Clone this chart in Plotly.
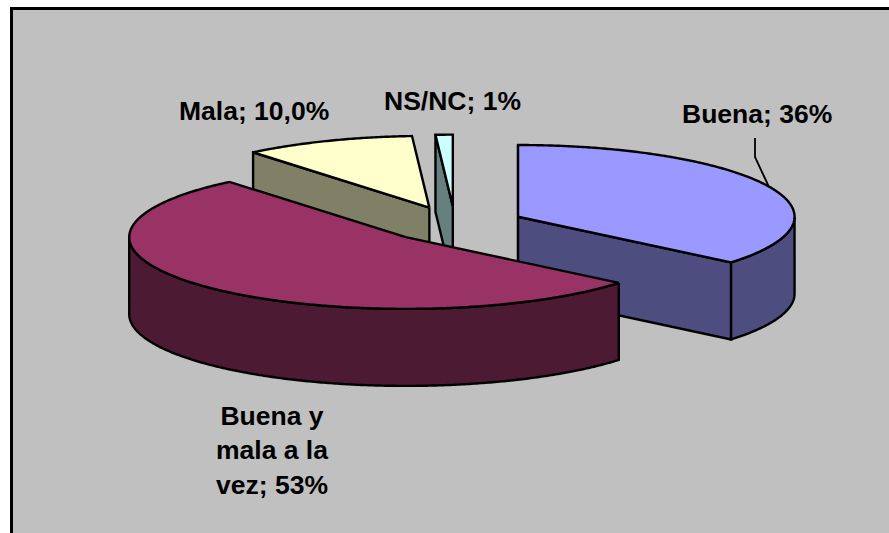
import math
import plotly.graph_objects as go

# Data
categories = ["Buena", "Buena y mala a la vez", "Mala", "NS/NC"]
shares = [36, 53, 10, 1]
top_colors = ["#9999FF", "#993366", "#FFFFCC", "#CCFFFF"]
wall_colors = ["#4D4D80", "#4D1A33", "#808066", "#668080"]
draw_order = [2, 3, 0, 1]  # back to front

# Pie projection (pixels on the axes below)
CX, CY = 455.0, 224.4
RX, RY = 276.5, 71.7
DEPTH = 77.0
EXPLODE = 0.252
W, H = 889, 533


def pt(c, deg, r=1.0, dy=0.0):
    a = math.radians(deg)
    return c[0] + r * RX * math.sin(a), c[1] - r * RY * math.cos(a) + dy


def arc(c, a0, a1, dy=0.0):
    n = max(2, int(abs(a1 - a0)) * 2)
    return [pt(c, a0 + (a1 - a0) * i / n, 1.0, dy) for i in range(n + 1)]


def poly(points, fill):
    xs = [p[0] for p in points] + [points[0][0]]
    ys = [p[1] for p in points] + [points[0][1]]
    return go.Scatter(x=xs, y=ys, mode="lines", fill="toself", fillcolor=fill,
                      line=dict(color="black", width=2.4, simplify=False),
                      hoverinfo="skip", showlegend=False)


total = sum(shares)
bounds = []
acc = 0
for v in shares:
    bounds.append((acc * 360 / total, (acc + v) * 360 / total))
    acc += v

fig = go.Figure()
for i in draw_order:
    a0, a1 = bounds[i]
    mid = (a0 + a1) / 2
    c = pt((CX, CY), mid, EXPLODE)
    # cut faces
    if math.sin(math.radians(a0)) < -1e-9 or a0 == 0:
        p = pt(c, a0)
        fig.add_trace(poly([c, p, (p[0], p[1] + DEPTH), (c[0], c[1] + DEPTH)], wall_colors[i]))
    if math.sin(math.radians(a1)) > 1e-9:
        p = pt(c, a1)
        fig.add_trace(poly([c, p, (p[0], p[1] + DEPTH), (c[0], c[1] + DEPTH)], wall_colors[i]))
    # rim
    lo, hi = max(a0, 90), min(a1, 270)
    if hi > lo:
        fig.add_trace(poly(arc(c, lo, hi) + arc(c, hi, lo, DEPTH), wall_colors[i]))
    # top
    fig.add_trace(poly([c] + arc(c, a0, a1), top_colors[i]))

FONT = dict(family="Liberation Sans, Arial", size=26.5, color="black")
labels = [
    ("Buena; 36%", 757, 114),
    ("Mala; 10,0%", 254, 111),
    ("NS/NC; 1%", 452, 101),
    ("Buena y<br>mala a la<br>vez; 53%", 272, 450),
]
annotations = [dict(x=x, y=y, xref="x", yref="y", text="<b>%s</b>" % t, showarrow=False,
                    font=FONT, xanchor="center", yanchor="middle", align="center")
               for t, x, y in labels]

fig.update_layout(
    width=W, height=H, margin=dict(l=0, r=0, t=0, b=0),
    paper_bgcolor="white", plot_bgcolor="white",
    xaxis=dict(range=[0, W], visible=False, fixedrange=True),
    yaxis=dict(range=[H, 0], visible=False, fixedrange=True),
    annotations=annotations,
    shapes=[
        dict(type="rect", layer="below", x0=11.5, y0=8.5, x1=W + 10, y1=H + 10,
             fillcolor="#C0C0C0", line=dict(color="black", width=3)),
        dict(type="path", layer="above", path="M 755 138 L 755 157 L 769 187",
             line=dict(color="black", width=1.8)),
    ],
)
fig.write_html("out.html", config={"displayModeBar": False},
               post_script="document.body.style.margin='0';document.body.style.overflow='hidden';")
